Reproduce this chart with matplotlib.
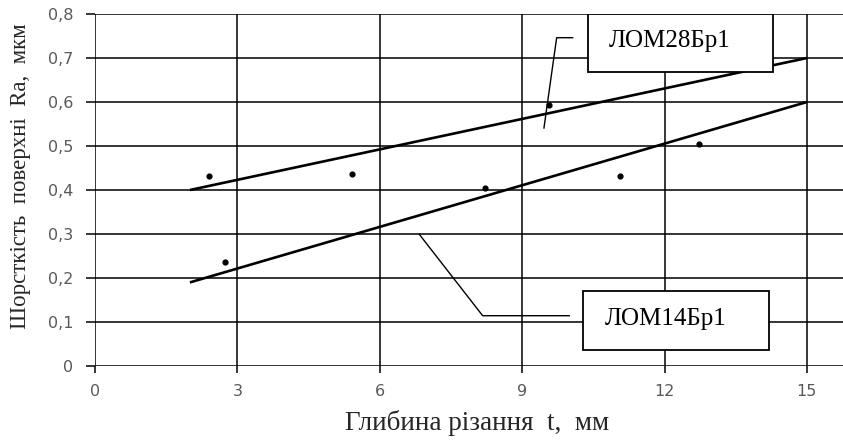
import matplotlib
matplotlib.use("Agg")
import matplotlib.pyplot as plt
import numpy as np
from matplotlib.patches import Rectangle

# Data
x_ticks = [0, 3, 6, 9, 12, 15]
y_ticks = [0, 0.1, 0.2, 0.3, 0.4, 0.5, 0.6, 0.7, 0.8]
y_tick_labels = ["0", "0,1", "0,2", "0,3", "0,4", "0,5", "0,6", "0,7", "0,8"]

points_x = [2.4, 2.74, 5.41, 8.21, 9.57, 11.06, 12.72]
points_y = [0.432, 0.236, 0.436, 0.405, 0.593, 0.431, 0.504]

trend_x = [2, 15]
trend_lom28 = [0.40, 0.70]
trend_lom14 = [0.19, 0.60]

label_lom28 = "ЛОМ28Бр1"
label_lom14 = "ЛОМ14Бр1"
xlabel = "Глибина різання  t,  мм"
ylabel = "Шорсткість  поверхні  Ra,  мкм"

W, H = 843, 442
fig = plt.figure(figsize=(W / 100, H / 100), dpi=100)
ax = fig.add_axes([95 / W, 1 - 366 / H, 1 - 95 / W, 352 / H])

ax.set_xlim(0, 15.76)
ax.set_ylim(0, 0.8)

# grid
for xv in x_ticks:
    ax.axvline(xv, color="black", lw=1.1, zorder=1)
for yv in y_ticks:
    ax.axhline(yv, color="black", lw=1.1, zorder=1)

for s in ax.spines.values():
    s.set_visible(False)

ax.set_xticks(x_ticks)
ax.set_xticklabels([str(v) for v in x_ticks])
ax.set_yticks(y_ticks)
ax.set_yticklabels(y_tick_labels)
ax.tick_params(axis="x", length=5, width=1.1, color="black", pad=8,
               labelsize=11.5, labelcolor="#595959")
ax.tick_params(axis="y", length=6.5, width=1.1, color="black", pad=9,
               labelsize=11.5, labelcolor="#595959")
for lab in ax.get_xticklabels() + ax.get_yticklabels():
    lab.set_family("DejaVu Sans")

# trend lines
ax.plot(trend_x, trend_lom28, color="black", lw=1.9, zorder=3, solid_capstyle="butt")
ax.plot(trend_x, trend_lom14, color="black", lw=1.9, zorder=3, solid_capstyle="butt")

# points
ax.scatter(points_x, points_y, s=12, color="black", zorder=4)

def px2data(px, py):
    xd = (px - 95) / (712 / 15)
    yd = (366 - py) / 440
    return xd, yd

# leader lines
l28 = [px2data(544, 128), px2data(556.7, 37.7), px2data(572.7, 37.7)]
ax.plot([p[0] for p in l28], [p[1] for p in l28], color="black", lw=1.0, zorder=5)
l14 = [px2data(419.3, 234.3), px2data(482.7, 315.7), px2data(569.3, 315.7)]
ax.plot([p[0] for p in l14], [p[1] for p in l14], color="black", lw=1.0, zorder=5)

def box(px0, py0, px1, py1, text):
    x0, y1 = px2data(px0, py0)
    x1, y0 = px2data(px1, py1)
    r = Rectangle((x0, y0), x1 - x0, y1 - y0, facecolor="white",
                  edgecolor="black", lw=1.3, zorder=6)
    ax.add_patch(r)
    ax.text((x0 + x1) / 2 - 11 / (712 / 15), (y0 + y1) / 2 + 0.004, text,
            ha="center", va="center",
            fontsize=18, family="Liberation Serif", color="black", zorder=7)

box(587.7, 14, 772.7, 72, label_lom28)
box(583.3, 290.7, 769.3, 350, label_lom14)

fig.text(477 / W, 1 - 423 / H, xlabel, ha="center", va="center",
         fontsize=19.5, family="Liberation Serif", color="#262626")
fig.text(21 / W, 1 - 176 / H, ylabel, ha="center", va="center", rotation=90,
         fontsize=16.5, family="Liberation Serif", color="#262626")

fig.savefig("out.png", dpi=100)
